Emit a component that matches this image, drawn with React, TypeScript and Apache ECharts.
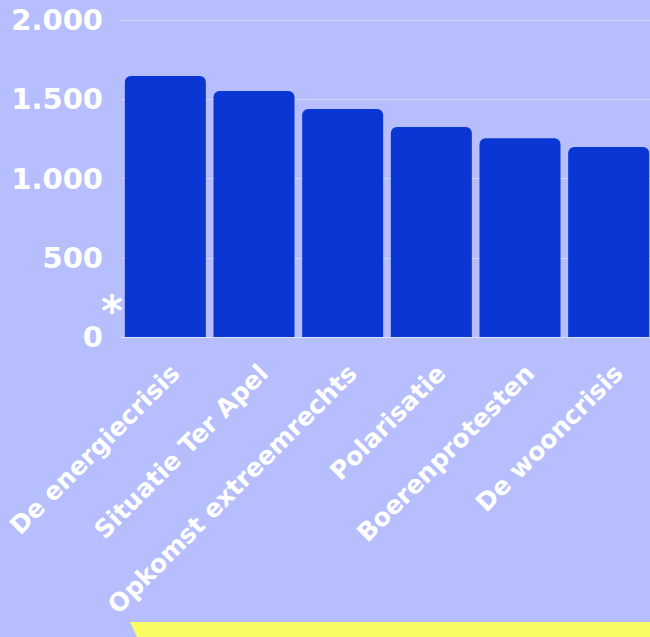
import React, { useEffect, useRef } from "react";
import * as echarts from "echarts";

const categories = [
  "De energiecrisis",
  "Situatie Ter Apel",
  "Opkomst extreemrechts",
  "Polarisatie",
  "Boerenprotesten",
  "De wooncrisis",
];
const values = [1647, 1552, 1438, 1325, 1254, 1199];
const yTicks = [0, 500, 1000, 1500, 2000];

const BG = "#b6befd";
const BAR = "#0a36d4";
const FONT = "'DejaVu Sans', sans-serif";

function fmt(v: number): string {
  return v.toString().replace(/\B(?=(\d{3})+(?!\d))/g, ".");
}

export default function App() {
  const ref = useRef<HTMLDivElement>(null);
  useEffect(() => {
    document.body.style.margin = "0";
    const chart = echarts.init(ref.current!, undefined, { renderer: "svg" });
    chart.setOption({
      animation: false,
      backgroundColor: BG,
      grid: {
        left: 121,
        right: -3,
        top: 20,
        bottom: 300,
        containLabel: false,
        outerBoundsMode: "none",
      },
      xAxis: {
        type: "category",
        data: categories,
        axisLine: { show: true, lineStyle: { color: "#dfe3ff", width: 1 } },
        axisTick: { show: false },
        axisLabel: {
          rotate: 45,
          interval: 0,
          margin: 22,
          color: "#ffffff",
          fontFamily: FONT,
          fontWeight: "bold",
          fontSize: 25,
          verticalAlign: "top",
          lineHeight: 28,
        },
      },
      yAxis: {
        type: "value",
        min: yTicks[0],
        max: yTicks[yTicks.length - 1],
        interval: 500,
        axisLine: { show: false },
        axisTick: { show: false },
        splitLine: { show: true, lineStyle: { color: "#d3d8ff", width: 1 } },
        axisLabel: {
          margin: 18,
          color: "#ffffff",
          fontFamily: FONT,
          fontWeight: "bold",
          fontSize: 29,
          formatter: (v: number) => fmt(v),
        },
      },
      series: [
        {
          type: "bar",
          data: values,
          barWidth: 81,
          itemStyle: { color: BAR, borderRadius: [6, 6, 0, 0] },
        },
      ],
      graphic: [
        {
          type: "text",
          left: 101,
          top: 290,
          style: {
            text: "*",
            fill: "#ffffff",
            fontFamily: FONT,
            fontWeight: "bold",
            fontSize: 42,
          },
        },
        {
          type: "polygon",
          shape: {
            points: [
              [130, 622],
              [650, 622],
              [650, 637],
              [137, 637],
            ],
          },
          style: { fill: "#f9fc62" },
        },
      ],
    });
    return () => chart.dispose();
  }, []);
  return <div ref={ref} style={{ width: 650, height: 637 }} />;
}
